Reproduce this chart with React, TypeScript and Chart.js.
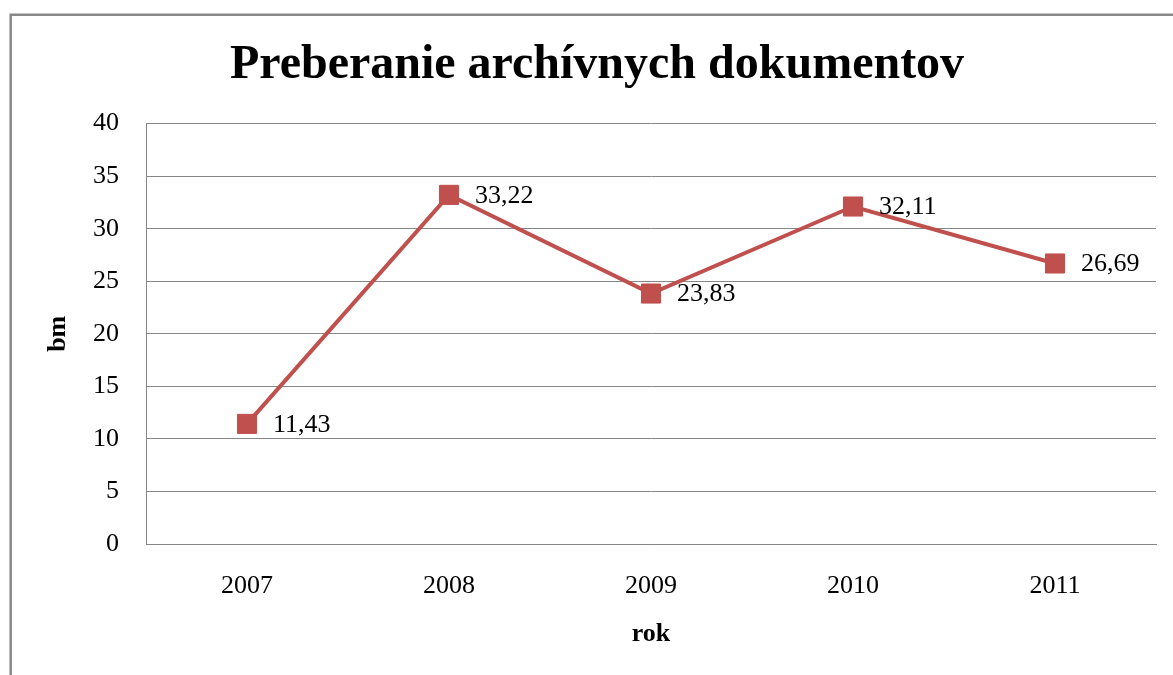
import React, { useEffect, useRef } from "react";
import { Chart, registerables } from "chart.js";

Chart.register(...registerables);

const titleText = "Preberanie archívnych dokumentov";
const years = ["2007", "2008", "2009", "2010", "2011"];
const values = [11.43, 33.22, 23.83, 32.11, 26.69];
const yAxisTitle = "bm";
const xAxisTitle = "rok";
const yMin = 0;
const yMax = 40;
const yStep = 5;

const SERIF = "'Liberation Serif', 'Times New Roman', serif";
const RED = "#C0504D";
const GRID = "#868686";

const framePlugin = {
  id: "frame",
  beforeDraw(chart: any) {
    const ctx = chart.ctx;
    ctx.save();
    ctx.strokeStyle = "#888888";
    ctx.lineWidth = 2.5;
    ctx.beginPath();
    ctx.moveTo(10.7, 700);
    ctx.lineTo(10.7, 14.7);
    ctx.lineTo(1200, 14.7);
    ctx.stroke();
    ctx.restore();
  },
};

const labelPlugin = {
  id: "pointLabels",
  afterDatasetsDraw(chart: any) {
    const ctx = chart.ctx;
    const meta = chart.getDatasetMeta(0);
    const data = chart.data.datasets[0].data as number[];
    ctx.save();
    ctx.font = `26px ${SERIF}`;
    ctx.fillStyle = "#000000";
    ctx.textAlign = "left";
    ctx.textBaseline = "middle";
    meta.data.forEach((pt: any, i: number) => {
      const txt = data[i].toFixed(2).replace(".", ",");
      ctx.fillText(txt, pt.x + 26, pt.y + 1);
    });
    ctx.restore();
  },
};

export default function App() {
  const ref = useRef<HTMLCanvasElement>(null);
  useEffect(() => {
    if (!ref.current) return;
    const chart = new Chart(ref.current, {
      type: "line",
      data: {
        labels: years,
        datasets: [
          {
            data: values,
            borderColor: RED,
            backgroundColor: RED,
            borderWidth: 4,
            pointStyle: "rect",
            pointRadius: 13.5,
            pointBackgroundColor: RED,
            pointBorderColor: RED,
            pointBorderWidth: 1,
            tension: 0,
          },
        ],
      },
      options: {
        responsive: false,
        animation: false,
        devicePixelRatio: 1,
        layout: { padding: { left: 38, right: 17, top: 0, bottom: 0 } },
        plugins: {
          legend: { display: false },
          tooltip: { enabled: false },
          title: {
            display: true,
            text: titleText,
            color: "#000000",
            font: { family: SERIF, size: 48, weight: "bold" },
            padding: { top: 37, bottom: 29 },
          },
        },
        scales: {
          x: {
            offset: true,
            grid: { display: false, drawTicks: false },
            border: { display: true, color: GRID, width: 1 },
            ticks: {
              color: "#000000",
              font: { family: SERIF, size: 26 },
              padding: 27,
              maxRotation: 0,
            },
            title: {
              display: true,
              text: xAxisTitle,
              color: "#000000",
              font: { family: SERIF, size: 26, weight: "bold" },
              padding: { top: 0, bottom: 25 },
            },
            afterFit(scale: any) {
              scale.height = 131;
            },
          },
          y: {
            min: yMin,
            max: yMax,
            grid: { color: GRID, lineWidth: 1, drawTicks: false },
            border: { display: true, color: GRID, width: 1 },
            ticks: {
              stepSize: yStep,
              color: "#000000",
              font: { family: SERIF, size: 26 },
              padding: 27,
            },
            title: {
              display: true,
              text: yAxisTitle,
              color: "#000000",
              font: { family: SERIF, size: 26, weight: "bold" },
              padding: { top: 5, bottom: 0 },
            },
            afterFit(scale: any) {
              scale.width = 108;
            },
          },
        },
      },
      plugins: [framePlugin, labelPlugin],
    });
    return () => chart.destroy();
  }, []);
  return (
    <div style={{ position: "absolute", left: 0, top: 0, width: 1173, height: 675, background: "#ffffff" }}>
      <canvas ref={ref} width={1173} height={675} style={{ display: "block" }} />
    </div>
  );
}
